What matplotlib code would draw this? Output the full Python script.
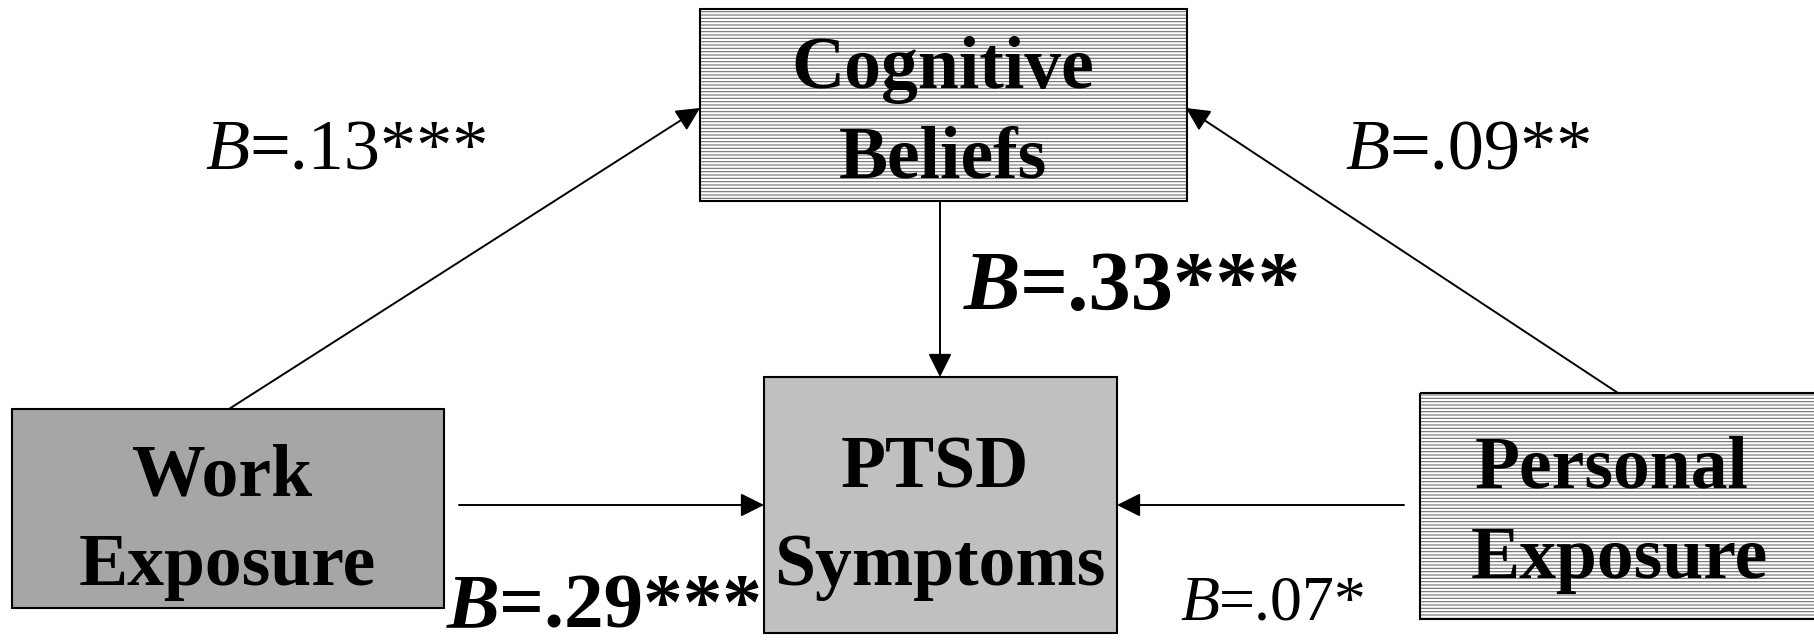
import matplotlib
matplotlib.use("Agg")
import matplotlib.pyplot as plt
from matplotlib.patches import Rectangle

plt.rcParams['font.family'] = ['Liberation Serif', 'DejaVu Serif']
plt.rcParams['hatch.linewidth'] = 0.8

# diagram content
node_names = ["Cognitive\nBeliefs", "Work\nExposure", "PTSD\nSymptoms", "Personal\nExposure"]
node_fill = ["hatch", "#a6a6a6", "#c0c0c0", "hatch"]
coef_values = [".13***", ".09**", ".33***", ".29***", ".07*"]
coef_bold = [False, False, True, True, False]

# layout (pixels, y down)
boxes = [(700, 9, 1187, 201), (12, 409, 444, 608), (764, 377, 1117, 633), (1420, 393, 1830, 619)]
text_lines = [((943, 88), (943, 177)), ((222, 495), (227, 585)),
              ((935, 488), (940, 585)), ((1612, 488), (1619, 578))]
arrows = [((229, 409), (700, 108)), ((1618, 393), (1186, 108)), ((940, 201), (940, 377)),
          ((459, 505), (764, 505)), ((1404, 505), (1117, 505))]
coef_pos = [(249, 169, 52), (1389, 169, 52), (1020, 310, 61), (499, 627, 57), (1219, 620, 46)]

fig = plt.figure(figsize=(18.15, 6.41), dpi=100)
ax = fig.add_axes([0, 0, 1, 1])
ax.set_xlim(0, 1815)
ax.set_ylim(641, 0)
ax.axis('off')

for i in range(len(node_names)):
    x0, y0, x1, y1 = boxes[i]
    if node_fill[i] == "hatch":
        ax.add_patch(Rectangle((x0, y0), x1 - x0, y1 - y0, facecolor='white',
                               edgecolor='#707070', hatch='-----', lw=0, zorder=1))
    else:
        ax.add_patch(Rectangle((x0, y0), x1 - x0, y1 - y0, facecolor=node_fill[i],
                               edgecolor='none', zorder=1))
    ax.add_patch(Rectangle((x0, y0), x1 - x0, y1 - y0, facecolor='none',
                           edgecolor='black', lw=1.5, zorder=2))
    lines = node_names[i].split("\n")
    for j in range(len(lines)):
        tx, ty = text_lines[i][j]
        ax.text(tx, ty, lines[j], ha='center', va='baseline', fontsize=53,
                fontweight='bold', zorder=3)

for start, tip in arrows:
    ax.annotate('', xy=tip, xytext=start,
                arrowprops=dict(arrowstyle='-|>,head_length=0.8,head_width=0.4',
                                mutation_scale=18, lw=1.4, color='black',
                                shrinkA=0, shrinkB=0), zorder=4)

for i in range(len(coef_values)):
    sx, by, fs = coef_pos[i]
    w = 'bold' if coef_bold[i] else 'normal'
    ax.text(sx, by, "B", ha='right', va='baseline', fontsize=fs, fontstyle='italic',
            fontweight=w, zorder=5)
    ax.text(sx, by, "=" + coef_values[i], ha='left', va='baseline', fontsize=fs,
            fontweight=w, zorder=5)

fig.savefig("out.png", dpi=100)
